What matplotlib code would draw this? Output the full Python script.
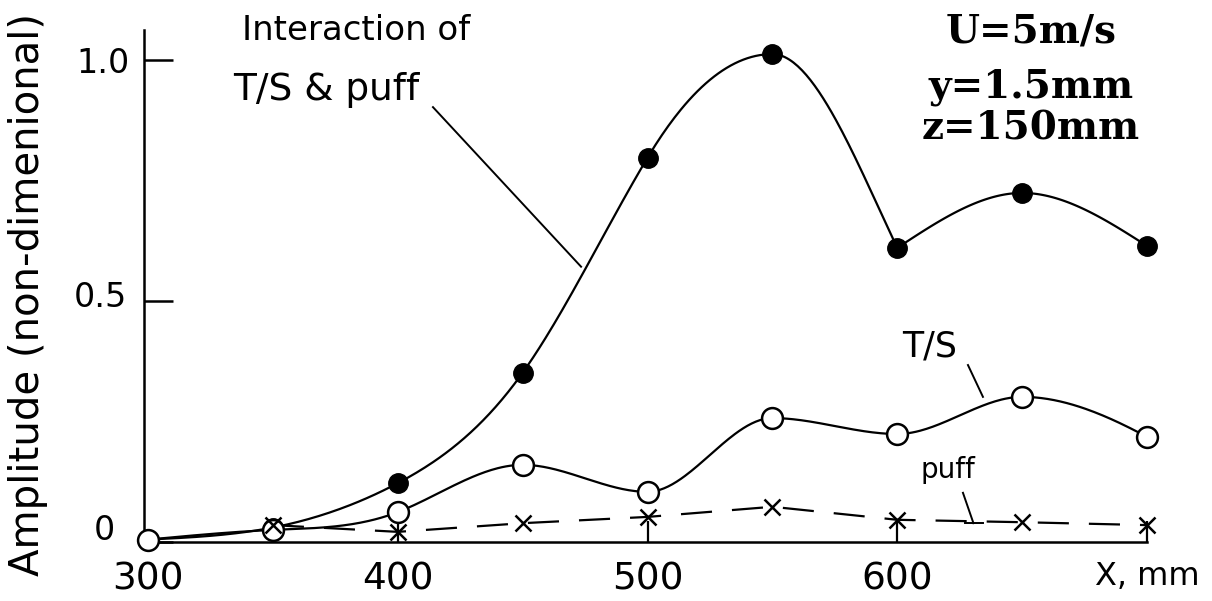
import numpy as np
import matplotlib
matplotlib.use("Agg")
import matplotlib.pyplot as plt
from matplotlib.transforms import ScaledTranslation

# Streamwise station (mm)
x_stations = [300, 350, 400, 450, 500, 550, 600, 650, 700]

# Interaction of T/S wave and puff (filled circles); first value is the common origin
interaction = [0.005, 0.03, 0.122, 0.351, 0.797, 1.012, 0.61, 0.724, 0.614]

# T/S wave alone (open circles)
ts_wave = [0.005, 0.025, 0.062, 0.16, 0.104, 0.257, 0.224, 0.301, 0.218]

# Puff alone (crosses)
puff_x = [350, 400, 450, 500, 550, 600, 650, 700]
puff = [0.035, 0.021, 0.039, 0.052, 0.073, 0.046, 0.041, 0.035]

x_ticks = [300, 400, 500, 600, 700]
x_tick_labels = ["300", "400", "500", "600", "X, mm"]
y_ticks = [0, 0.5, 1.0]
y_tick_labels = ["0", "0.5", "1.0"]


def smooth_curve(xs, ys, per_seg=60):
    """Hermite curve using natural-spline slopes, flattened at local extrema."""
    xs = np.asarray(xs, float)
    ys = np.asarray(ys, float)
    k = len(xs)
    h = np.diff(xs)
    d = np.diff(ys) / h
    # natural cubic spline second derivatives
    A = np.zeros((k, k))
    b = np.zeros(k)
    A[0, 0] = A[-1, -1] = 1.0
    for i in range(1, k - 1):
        A[i, i - 1] = h[i - 1]
        A[i, i] = 2 * (h[i - 1] + h[i])
        A[i, i + 1] = h[i]
        b[i] = 6 * (d[i] - d[i - 1])
    M = np.linalg.solve(A, b)
    m = np.empty(k)
    m[:-1] = d - h * (2 * M[:-1] + M[1:]) / 6
    m[-1] = d[-1] + h[-1] * (M[-2] + 2 * M[-1]) / 6
    for i in range(1, k - 1):
        if d[i - 1] * d[i] <= 0:
            m[i] = 0.0
    out_x, out_y = [], []
    for i in range(k - 1):
        t = np.linspace(0, 1, per_seg, endpoint=(i == k - 2))
        h00 = 2 * t ** 3 - 3 * t ** 2 + 1
        h10 = t ** 3 - 2 * t ** 2 + t
        h01 = -2 * t ** 3 + 3 * t ** 2
        h11 = t ** 3 - t ** 2
        out_x.append(xs[i] + t * h[i])
        out_y.append(h00 * ys[i] + h10 * h[i] * m[i] + h01 * ys[i + 1]
                     + h11 * h[i] * m[i + 1])
    return np.concatenate(out_x), np.concatenate(out_y)


fig = plt.figure(figsize=(12.12, 6.01), dpi=100)
ax = fig.add_axes([0.1188, 0.0982, 0.9464 - 0.1188, 0.9501 - 0.0982])
ax.set_xlim(298.4, 700)
ax.set_ylim(0, 1.062)

for s in ("top", "right"):
    ax.spines[s].set_visible(False)
for s in ("left", "bottom"):
    ax.spines[s].set_linewidth(1.8)

lw = 1.6
# Interaction curve: smooth up to the minimum at 600 mm, then a second arc
split = x_stations.index(600)
xa, ya = smooth_curve(x_stations[:split + 1], interaction[:split + 1])
xb, yb = smooth_curve(x_stations[split:], interaction[split:])
ax.plot(xa, ya, color="black", lw=lw, clip_on=False, zorder=2)
ax.plot(xb, yb, color="black", lw=lw, clip_on=False, zorder=2)
ax.plot(x_stations[1:], interaction[1:], "o", ms=14, color="black",
        clip_on=False, zorder=4)

# T/S curve
xt, yt = smooth_curve(x_stations, ts_wave)
ax.plot(xt, yt, color="black", lw=lw, clip_on=False, zorder=2)
ax.plot(x_stations, ts_wave, "o", ms=15, mfc="white", mec="black", mew=1.8,
        clip_on=False, zorder=5)

# Puff: dashed line with crosses
ax.plot(puff_x, puff, color="black", lw=1.6, dashes=(14, 9), clip_on=False,
        zorder=2)
ax.plot(puff_x, puff, "x", ms=11, mew=1.8, color="black", clip_on=False,
        zorder=6)

ax.set_xticks(x_ticks)
ax.set_xticklabels(x_tick_labels)
ax.set_yticks(y_ticks)
ax.set_yticklabels(y_tick_labels)
ax.tick_params(axis="x", direction="in", length=15, width=1.6, pad=14,
               labelsize=27)
ax.tick_params(axis="y", direction="in", length=21, width=1.8, pad=10,
               labelsize=24)
ax.xaxis.get_major_ticks()[0].tick1line.set_visible(False)
for lab in ax.get_xticklabels():
    if lab.get_text() == "X, mm":
        lab.set_fontsize(23)

# Nudge the lower y labels: "0" sits left of and above the corner
label_shift = {"0": (-15, 15), "0.5": (-3, 7)}
for lab in ax.get_yticklabels():
    if lab.get_text() in label_shift:
        dx, dy = label_shift[lab.get_text()]
        lab.set_transform(lab.get_transform()
                          + ScaledTranslation(dx / 100, dy / 100,
                                              fig.dpi_scale_trans))

fig.text(28 / 1212, 1 - 295 / 601, "Amplitude (non-dimenional)",
         rotation=90, ha="center", va="center", fontsize=29)

# Curve labels and leader lines
ax.text(383.3, 1.042, "Interaction of", ha="center", va="baseline",
        fontsize=24.5)
ax.text(371.5, 0.917, "T/S & puff", ha="center", va="baseline", fontsize=27)
ax.plot([414.1, 473.4], [0.902, 0.571], color="black", lw=1.4, clip_on=False)

ax.text(613.1, 0.384, "T/S", ha="center", va="baseline", fontsize=25)
ax.plot([628.3, 634.3], [0.367, 0.301], color="black", lw=1.4)

ax.text(620.3, 0.133, "puff", ha="center", va="baseline", fontsize=20)
ax.plot([626.3, 630.5], [0.102, 0.039], color="black", lw=1.4)
ax.plot([627.1, 634.3], [0.039, 0.039], color="black", lw=1.4)

# Flow conditions
cond_kw = dict(ha="center", va="baseline", fontsize=28,
               family="DejaVu Serif", fontweight="bold")
ax.text(653.5, 1.037, "U=5m/s", **cond_kw)
ax.text(653.5, 0.921, "y=1.5mm", **cond_kw)
ax.text(653.5, 0.834, "z=150mm", **cond_kw)

fig.savefig("out.png", dpi=100)
